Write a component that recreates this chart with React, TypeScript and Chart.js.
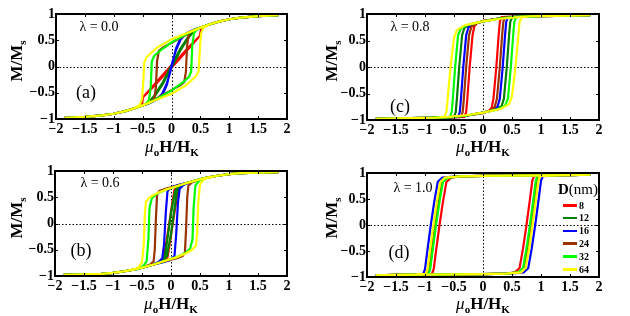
import React, { useEffect, useRef } from 'react';
import { Chart, registerables } from 'chart.js';
Chart.register(...registerables);

// ---------- data ----------
const seriesLabels = ['8', '12', '16', '24', '32', '64'];
const seriesColors = ['#ff0000', '#008000', '#0000ff', '#993300', '#00ff00', '#ffff00'];
const xTicks = [-2, -1.5, -1, -0.5, 0, 0.5, 1, 1.5, 2];
const yTicks = [-1, -0.5, 0, 0.5, 1];
const lambdaLabels = ['\u03bb = 0.0', '\u03bb = 0.6', '\u03bb = 0.8', '\u03bb = 1.0'];
const panelTags = ['(a)', '(b)', '(c)', '(d)'];

// panel (a), lambda = 0.0 : each loop = descending branch then ascending branch
const a8 = [[1.85,0.98],[1.5,0.96],[1.2,0.93],[1,0.9],[0.8,0.85],[0.65,0.8],[0.55,0.76],[0.51,0.7],[0.49,0.58],[0.3,0.37],[0.1,0.13],[-0.02,0],[-0.2,-0.22],[-0.4,-0.47],[-0.49,-0.58],[-0.51,-0.7],[-0.55,-0.76],[-0.65,-0.8],[-0.8,-0.85],[-1,-0.9],[-1.2,-0.93],[-1.5,-0.96],[-1.85,-0.98],
  [-1.5,-0.96],[-1.2,-0.93],[-1,-0.9],[-0.8,-0.85],[-0.65,-0.8],[-0.55,-0.76],[-0.51,-0.7],[-0.49,-0.58],[-0.3,-0.37],[-0.1,-0.13],[0.02,0],[0.2,0.22],[0.4,0.47],[0.49,0.58],[0.51,0.7],[0.55,0.76],[0.65,0.8],[0.8,0.85],[1,0.9],[1.2,0.93],[1.5,0.96],[1.85,0.98]];
const a12 = [[1.85,0.98],[1.5,0.96],[1.2,0.93],[1,0.9],[0.8,0.85],[0.65,0.8],[0.5,0.74],[0.4,0.7],[0.3,0.58],[0.15,0.33],[0.04,0.1],[-0.04,-0.06],[-0.15,-0.3],[-0.3,-0.56],[-0.4,-0.68],[-0.5,-0.74],[-0.65,-0.8],[-0.8,-0.85],[-1,-0.9],[-1.2,-0.93],[-1.5,-0.96],[-1.85,-0.98],
  [-1.5,-0.96],[-1.2,-0.93],[-1,-0.9],[-0.8,-0.85],[-0.65,-0.8],[-0.5,-0.74],[-0.4,-0.7],[-0.3,-0.58],[-0.15,-0.33],[-0.04,-0.1],[0.04,0.06],[0.15,0.3],[0.3,0.56],[0.4,0.68],[0.5,0.74],[0.65,0.8],[0.8,0.85],[1,0.9],[1.2,0.93],[1.5,0.96],[1.85,0.98]];
const a16 = [[1.85,0.98],[1.5,0.96],[1.2,0.93],[1,0.9],[0.8,0.85],[0.65,0.8],[0.5,0.74],[0.4,0.71],[0.25,0.63],[0.15,0.52],[0.08,0.35],[0.03,0.12],[-0.02,-0.1],[-0.08,-0.32],[-0.16,-0.52],[-0.26,-0.63],[-0.4,-0.71],[-0.5,-0.74],[-0.65,-0.8],[-0.8,-0.85],[-1,-0.9],[-1.2,-0.93],[-1.5,-0.96],[-1.85,-0.98],
  [-1.5,-0.96],[-1.2,-0.93],[-1,-0.9],[-0.8,-0.85],[-0.65,-0.8],[-0.5,-0.74],[-0.4,-0.71],[-0.25,-0.63],[-0.15,-0.52],[-0.08,-0.35],[-0.03,-0.12],[0.02,0.1],[0.08,0.32],[0.16,0.52],[0.26,0.63],[0.4,0.71],[0.5,0.74],[0.65,0.8],[0.8,0.85],[1,0.9],[1.2,0.93],[1.5,0.96],[1.85,0.98]];
const a24 = [[1.85,0.98],[1.5,0.96],[1.2,0.93],[1,0.9],[0.8,0.85],[0.65,0.8],[0.5,0.74],[0.4,0.7],[0.2,0.57],[0,0.45],[-0.15,0.36],[-0.22,0.3],[-0.25,0.1],[-0.27,-0.4],[-0.3,-0.62],[-0.4,-0.7],[-0.5,-0.74],[-0.65,-0.8],[-0.8,-0.85],[-1,-0.9],[-1.2,-0.93],[-1.5,-0.96],[-1.85,-0.98],
  [-1.5,-0.96],[-1.2,-0.93],[-1,-0.9],[-0.8,-0.85],[-0.65,-0.8],[-0.5,-0.74],[-0.4,-0.7],[-0.2,-0.57],[0,-0.45],[0.15,-0.36],[0.22,-0.3],[0.25,-0.1],[0.27,0.4],[0.3,0.62],[0.4,0.7],[0.5,0.74],[0.65,0.8],[0.8,0.85],[1,0.9],[1.2,0.93],[1.5,0.96],[1.85,0.98]];
const a32 = [[1.85,0.98],[1.5,0.96],[1.2,0.93],[1,0.9],[0.8,0.85],[0.65,0.8],[0.5,0.74],[0.4,0.7],[0.2,0.58],[0,0.46],[-0.2,0.3],[-0.3,0.2],[-0.34,0.1],[-0.36,-0.4],[-0.39,-0.64],[-0.45,-0.72],[-0.5,-0.74],[-0.65,-0.8],[-0.8,-0.85],[-1,-0.9],[-1.2,-0.93],[-1.5,-0.96],[-1.85,-0.98],
  [-1.5,-0.96],[-1.2,-0.93],[-1,-0.9],[-0.8,-0.85],[-0.65,-0.8],[-0.5,-0.74],[-0.4,-0.7],[-0.2,-0.58],[0,-0.46],[0.2,-0.3],[0.3,-0.2],[0.34,-0.1],[0.36,0.4],[0.39,0.64],[0.45,0.72],[0.5,0.74],[0.65,0.8],[0.8,0.85],[1,0.9],[1.2,0.93],[1.5,0.96],[1.85,0.98]];
const a64 = [[1.85,0.98],[1.5,0.96],[1.2,0.93],[1,0.9],[0.8,0.85],[0.65,0.8],[0.5,0.74],[0.3,0.65],[0,0.52],[-0.25,0.36],[-0.43,0.18],[-0.47,0.08],[-0.49,-0.3],[-0.51,-0.62],[-0.55,-0.73],[-0.65,-0.8],[-0.8,-0.85],[-1,-0.9],[-1.2,-0.93],[-1.5,-0.96],[-1.85,-0.98],
  [-1.5,-0.96],[-1.2,-0.93],[-1,-0.9],[-0.8,-0.85],[-0.65,-0.8],[-0.5,-0.74],[-0.3,-0.65],[0,-0.52],[0.25,-0.36],[0.43,-0.18],[0.47,-0.08],[0.49,0.3],[0.51,0.62],[0.55,0.73],[0.65,0.8],[0.8,0.85],[1,0.9],[1.2,0.93],[1.5,0.96],[1.85,0.98]];

// panel (b), lambda = 0.6
const b8 = [[1.85,0.98],[1.5,0.97],[1.2,0.96],[1,0.94],[0.8,0.91],[0.6,0.87],[0.5,0.84],[0.3,0.78],[0.15,0.73],[0.06,0.64],[0.01,0.3],[-0.03,0],[-0.08,-0.35],[-0.12,-0.62],[-0.17,-0.72],[-0.3,-0.78],[-0.5,-0.84],[-0.6,-0.87],[-0.8,-0.91],[-1,-0.94],[-1.2,-0.96],[-1.5,-0.97],[-1.85,-0.98],
  [-1.5,-0.97],[-1.2,-0.96],[-1,-0.94],[-0.8,-0.91],[-0.6,-0.87],[-0.5,-0.84],[-0.3,-0.78],[-0.15,-0.73],[-0.06,-0.64],[-0.01,-0.3],[0.03,0],[0.08,0.35],[0.12,0.62],[0.17,0.72],[0.3,0.78],[0.5,0.84],[0.6,0.87],[0.8,0.91],[1,0.94],[1.2,0.96],[1.5,0.97],[1.85,0.98]];
const b12 = [[1.85,0.98],[1.5,0.97],[1.2,0.96],[1,0.94],[0.8,0.91],[0.6,0.87],[0.5,0.84],[0.3,0.78],[0.15,0.73],[0.07,0.62],[0,0.2],[-0.05,-0.2],[-0.1,-0.58],[-0.16,-0.72],[-0.3,-0.78],[-0.5,-0.84],[-0.6,-0.87],[-0.8,-0.91],[-1,-0.94],[-1.2,-0.96],[-1.5,-0.97],[-1.85,-0.98],
  [-1.5,-0.97],[-1.2,-0.96],[-1,-0.94],[-0.8,-0.91],[-0.6,-0.87],[-0.5,-0.84],[-0.3,-0.78],[-0.15,-0.73],[-0.07,-0.62],[0,-0.2],[0.05,0.2],[0.1,0.58],[0.16,0.72],[0.3,0.78],[0.5,0.84],[0.6,0.87],[0.8,0.91],[1,0.94],[1.2,0.96],[1.5,0.97],[1.85,0.98]];
const b16 = [[1.85,0.98],[1.5,0.97],[1.2,0.96],[1,0.94],[0.8,0.91],[0.6,0.87],[0.5,0.84],[0.3,0.78],[0.15,0.74],[0.02,0.7],[-0.06,0.62],[-0.09,0.2],[-0.12,-0.4],[-0.15,-0.66],[-0.22,-0.74],[-0.35,-0.79],[-0.5,-0.84],[-0.6,-0.87],[-0.8,-0.91],[-1,-0.94],[-1.2,-0.96],[-1.5,-0.97],[-1.85,-0.98],
  [-1.5,-0.97],[-1.2,-0.96],[-1,-0.94],[-0.8,-0.91],[-0.6,-0.87],[-0.5,-0.84],[-0.3,-0.78],[-0.15,-0.74],[-0.02,-0.7],[0.06,-0.62],[0.09,-0.2],[0.12,0.4],[0.15,0.66],[0.22,0.74],[0.35,0.79],[0.5,0.84],[0.6,0.87],[0.8,0.91],[1,0.94],[1.2,0.96],[1.5,0.97],[1.85,0.98]];
const b24 = [[1.85,0.98],[1.5,0.97],[1.2,0.96],[1,0.94],[0.8,0.91],[0.6,0.87],[0.5,0.84],[0.3,0.78],[0.1,0.72],[-0.1,0.66],[-0.2,0.62],[-0.24,0.55],[-0.26,0.1],[-0.28,-0.5],[-0.3,-0.72],[-0.36,-0.78],[-0.5,-0.84],[-0.6,-0.87],[-0.8,-0.91],[-1,-0.94],[-1.2,-0.96],[-1.5,-0.97],[-1.85,-0.98],
  [-1.5,-0.97],[-1.2,-0.96],[-1,-0.94],[-0.8,-0.91],[-0.6,-0.87],[-0.5,-0.84],[-0.3,-0.78],[-0.1,-0.72],[0.1,-0.66],[0.2,-0.62],[0.24,-0.55],[0.26,-0.1],[0.28,0.5],[0.3,0.72],[0.36,0.78],[0.5,0.84],[0.6,0.87],[0.8,0.91],[1,0.94],[1.2,0.96],[1.5,0.97],[1.85,0.98]];
const b32 = [[1.85,0.98],[1.5,0.97],[1.2,0.96],[1,0.94],[0.8,0.91],[0.6,0.87],[0.5,0.84],[0.3,0.78],[0.1,0.71],[-0.1,0.64],[-0.25,0.56],[-0.33,0.48],[-0.37,0.3],[-0.39,-0.3],[-0.42,-0.72],[-0.48,-0.81],[-0.6,-0.87],[-0.8,-0.91],[-1,-0.94],[-1.2,-0.96],[-1.5,-0.97],[-1.85,-0.98],
  [-1.5,-0.97],[-1.2,-0.96],[-1,-0.94],[-0.8,-0.91],[-0.6,-0.87],[-0.5,-0.84],[-0.3,-0.78],[-0.1,-0.71],[0.1,-0.64],[0.25,-0.56],[0.33,-0.48],[0.37,-0.3],[0.39,0.3],[0.42,0.72],[0.48,0.81],[0.6,0.87],[0.8,0.91],[1,0.94],[1.2,0.96],[1.5,0.97],[1.85,0.98]];
const b64 = [[1.85,0.98],[1.5,0.97],[1.2,0.96],[1,0.94],[0.8,0.91],[0.6,0.87],[0.5,0.84],[0.3,0.78],[0.1,0.71],[-0.1,0.64],[-0.25,0.57],[-0.37,0.5],[-0.43,0.42],[-0.45,0.2],[-0.47,-0.4],[-0.5,-0.74],[-0.55,-0.82],[-0.6,-0.86],[-0.8,-0.91],[-1,-0.94],[-1.2,-0.96],[-1.5,-0.97],[-1.85,-0.98],
  [-1.5,-0.97],[-1.2,-0.96],[-1,-0.94],[-0.8,-0.91],[-0.6,-0.87],[-0.5,-0.84],[-0.3,-0.78],[-0.1,-0.71],[0.1,-0.64],[0.25,-0.57],[0.37,-0.5],[0.43,-0.42],[0.45,-0.2],[0.47,0.4],[0.5,0.74],[0.55,0.82],[0.6,0.86],[0.8,0.91],[1,0.94],[1.2,0.96],[1.5,0.97],[1.85,0.98]];

// panel (c), lambda = 0.8
const c8 = [[1.85,0.98],[1.5,0.97],[1,0.96],[0.6,0.95],[0.3,0.92],[0,0.87],[-0.1,0.83],[-0.15,0.77],[-0.18,0.6],[-0.23,0],[-0.27,-0.6],[-0.29,-0.85],[-0.32,-0.94],[-0.55,-0.95],[-1,-0.96],[-1.5,-0.97],[-1.85,-0.98],
  [-1.5,-0.97],[-1,-0.96],[-0.6,-0.95],[-0.3,-0.92],[0,-0.87],[0.1,-0.83],[0.15,-0.77],[0.18,-0.6],[0.23,0],[0.27,0.6],[0.29,0.85],[0.32,0.94],[0.55,0.95],[1,0.96],[1.5,0.97],[1.85,0.98]];
const c12 = [[1.85,0.98],[1.5,0.97],[1,0.96],[0.6,0.95],[0.3,0.92],[0,0.86],[-0.2,0.81],[-0.32,0.74],[-0.36,0.6],[-0.41,0],[-0.45,-0.6],[-0.47,-0.85],[-0.5,-0.94],[-0.7,-0.95],[-1,-0.96],[-1.5,-0.97],[-1.85,-0.98],
  [-1.5,-0.97],[-1,-0.96],[-0.6,-0.95],[-0.3,-0.92],[0,-0.86],[0.2,-0.81],[0.32,-0.74],[0.36,-0.6],[0.41,0],[0.45,0.6],[0.47,0.85],[0.5,0.94],[0.7,0.95],[1,0.96],[1.5,0.97],[1.85,0.98]];
const c16 = [[1.85,0.98],[1.5,0.97],[1,0.96],[0.6,0.95],[0.3,0.92],[0,0.86],[-0.15,0.82],[-0.25,0.75],[-0.29,0.6],[-0.34,0],[-0.38,-0.6],[-0.4,-0.85],[-0.43,-0.94],[-0.65,-0.95],[-1,-0.96],[-1.5,-0.97],[-1.85,-0.98],
  [-1.5,-0.97],[-1,-0.96],[-0.6,-0.95],[-0.3,-0.92],[0,-0.86],[0.15,-0.82],[0.25,-0.75],[0.29,-0.6],[0.34,0],[0.38,0.6],[0.4,0.85],[0.43,0.94],[0.65,0.95],[1,0.96],[1.5,0.97],[1.85,0.98]];
const c24 = [[1.85,0.98],[1.5,0.97],[1,0.96],[0.6,0.95],[0.3,0.92],[0,0.86],[-0.12,0.82],[-0.2,0.76],[-0.24,0.6],[-0.29,0],[-0.33,-0.6],[-0.35,-0.85],[-0.38,-0.94],[-0.6,-0.95],[-1,-0.96],[-1.5,-0.97],[-1.85,-0.98],
  [-1.5,-0.97],[-1,-0.96],[-0.6,-0.95],[-0.3,-0.92],[0,-0.86],[0.12,-0.82],[0.2,-0.76],[0.24,-0.6],[0.29,0],[0.33,0.6],[0.35,0.85],[0.38,0.94],[0.6,0.95],[1,0.96],[1.5,0.97],[1.85,0.98]];
const c32 = [[1.85,0.98],[1.5,0.97],[1,0.96],[0.6,0.95],[0.3,0.92],[0,0.86],[-0.25,0.8],[-0.38,0.73],[-0.43,0.6],[-0.48,0],[-0.52,-0.6],[-0.54,-0.85],[-0.57,-0.94],[-0.75,-0.95],[-1,-0.96],[-1.5,-0.97],[-1.85,-0.98],
  [-1.5,-0.97],[-1,-0.96],[-0.6,-0.95],[-0.3,-0.92],[0,-0.86],[0.25,-0.8],[0.38,-0.73],[0.43,-0.6],[0.48,0],[0.52,0.6],[0.54,0.85],[0.57,0.94],[0.75,0.95],[1,0.96],[1.5,0.97],[1.85,0.98]];
const c64 = [[1.85,0.98],[1.5,0.97],[1,0.96],[0.8,0.955],[0.6,0.94],[0.3,0.91],[0,0.86],[-0.3,0.79],[-0.45,0.7],[-0.5,0.55],[-0.56,0],[-0.61,-0.6],[-0.63,-0.85],[-0.67,-0.94],[-0.8,-0.955],[-1,-0.96],[-1.5,-0.97],[-1.85,-0.98],
  [-1.5,-0.97],[-1,-0.96],[-0.8,-0.955],[-0.6,-0.94],[-0.3,-0.91],[0,-0.86],[0.3,-0.79],[0.45,-0.7],[0.5,-0.55],[0.56,0],[0.61,0.6],[0.63,0.85],[0.67,0.94],[0.8,0.955],[1,0.96],[1.5,0.97],[1.85,0.98]];

// panel (d), lambda = 1.0
const d8 = [[1.85,0.97],[1.5,0.96],[0.5,0.95],[0,0.945],[-0.4,0.935],[-0.55,0.91],[-0.63,0.83],[-0.69,0.45],[-0.75,0],[-0.81,-0.5],[-0.85,-0.85],[-0.88,-0.94],[-1.05,-0.95],[-1.5,-0.96],[-1.85,-0.97],
  [-1.5,-0.96],[-0.5,-0.95],[0,-0.945],[0.4,-0.935],[0.55,-0.91],[0.63,-0.83],[0.69,-0.45],[0.75,0],[0.81,0.5],[0.85,0.85],[0.88,0.94],[1.05,0.95],[1.5,0.96],[1.85,0.97]];
const d12 = [[1.85,0.97],[1.5,0.96],[0.5,0.95],[0,0.945],[-0.4,0.935],[-0.62,0.91],[-0.7,0.83],[-0.76,0.45],[-0.82,0],[-0.88,-0.5],[-0.92,-0.85],[-0.95,-0.94],[-1.12,-0.95],[-1.5,-0.96],[-1.85,-0.97],
  [-1.5,-0.96],[-0.5,-0.95],[0,-0.945],[0.4,-0.935],[0.62,-0.91],[0.7,-0.83],[0.76,-0.45],[0.82,0],[0.88,0.5],[0.92,0.85],[0.95,0.94],[1.12,0.95],[1.5,0.96],[1.85,0.97]];
const d16 = [[1.85,0.97],[1.5,0.96],[0.5,0.95],[0,0.945],[-0.45,0.935],[-0.7,0.91],[-0.78,0.83],[-0.84,0.45],[-0.9,0],[-0.96,-0.5],[-1,-0.85],[-1.03,-0.94],[-1.2,-0.95],[-1.5,-0.96],[-1.85,-0.97],
  [-1.5,-0.96],[-0.5,-0.95],[0,-0.945],[0.45,-0.935],[0.7,-0.91],[0.78,-0.83],[0.84,-0.45],[0.9,0],[0.96,0.5],[1,0.85],[1.03,0.94],[1.2,0.95],[1.5,0.96],[1.85,0.97]];
const d24 = [[1.85,0.97],[1.5,0.96],[0.5,0.95],[0,0.945],[-0.4,0.935],[-0.635,0.91],[-0.715,0.83],[-0.775,0.45],[-0.835,0],[-0.895,-0.5],[-0.935,-0.85],[-0.965,-0.94],[-1.135,-0.95],[-1.5,-0.96],[-1.85,-0.97],
  [-1.5,-0.96],[-0.5,-0.95],[0,-0.945],[0.4,-0.935],[0.635,-0.91],[0.715,-0.83],[0.775,-0.45],[0.835,0],[0.895,0.5],[0.935,0.85],[0.965,0.94],[1.135,0.95],[1.5,0.96],[1.85,0.97]];
const d32 = [[1.85,0.97],[1.5,0.96],[0.5,0.95],[0,0.945],[-0.4,0.935],[-0.61,0.91],[-0.69,0.83],[-0.75,0.45],[-0.81,0],[-0.87,-0.5],[-0.91,-0.85],[-0.94,-0.94],[-1.11,-0.95],[-1.5,-0.96],[-1.85,-0.97],
  [-1.5,-0.96],[-0.5,-0.95],[0,-0.945],[0.4,-0.935],[0.61,-0.91],[0.69,-0.83],[0.75,-0.45],[0.81,0],[0.87,0.5],[0.91,0.85],[0.94,0.94],[1.11,0.95],[1.5,0.96],[1.85,0.97]];
const d64 = [[1.85,0.97],[1.5,0.96],[0.5,0.95],[0,0.945],[-0.4,0.935],[-0.655,0.91],[-0.735,0.83],[-0.795,0.45],[-0.855,0],[-0.915,-0.5],[-0.955,-0.85],[-0.985,-0.94],[-1.155,-0.95],[-1.5,-0.96],[-1.85,-0.97],
  [-1.5,-0.96],[-0.5,-0.95],[0,-0.945],[0.4,-0.935],[0.655,-0.91],[0.735,-0.83],[0.795,-0.45],[0.855,0],[0.915,0.5],[0.955,0.85],[0.985,0.94],[1.155,0.95],[1.5,0.96],[1.85,0.97]];

const panelSeries = [
  [a8, a12, a16, a24, a32, a64],
  [b8, b12, b16, b24, b32, b64],
  [c8, c12, c16, c24, c32, c64],
  [d8, d12, d16, d24, d32, d64],
];

// ---------- layout ----------
const SERIF = '"Liberation Serif", "DejaVu Serif", "Times New Roman", serif';
const panels = [
  { ox: 0, oy: 0, w: 305, h: 140, padTop: 14, padRight: 18, yW: 56, xH: 21, lam: [99, 27], tag: [86, 92], yT: [16, 61], xT: [172, 146] },
  { ox: 0, oy: 158, w: 305, h: 140, padTop: 13, padRight: 18, yW: 55, xH: 22, lam: [100, 183], tag: [81, 250], yT: [16, 218], xT: [171, 303] },
  { ox: 315, oy: 0, w: 305, h: 140, padTop: 14, padRight: 21, yW: 52, xH: 20, lam: [410, 27], tag: [400, 106], yT: [331, 61], xT: [483, 146] },
  { ox: 315, oy: 158, w: 305, h: 140, padTop: 15, padRight: 21, yW: 52, xH: 21, lam: [413, 188], tag: [399, 252], yT: [331, 218], xT: [483, 303] },
];

const fmt = (v: number) => String(v).replace('-', '\u2212');

const framePlugin = {
  id: 'frameAndZero',
  beforeDatasetsDraw(chart: any) {
    const { ctx, chartArea: a, scales } = chart;
    const x0 = Math.round(scales.x.getPixelForValue(0)) + 0.5;
    const y0 = Math.round(scales.y.getPixelForValue(0)) + 0.5;
    ctx.save();
    ctx.strokeStyle = '#000';
    ctx.lineWidth = 1;
    ctx.setLineDash([1.5, 2]);
    ctx.beginPath();
    ctx.moveTo(x0, a.top);
    ctx.lineTo(x0, a.bottom);
    ctx.moveTo(a.left, y0);
    ctx.lineTo(a.right, y0);
    ctx.stroke();
    ctx.restore();
  },
  afterDraw(chart: any) {
    const { ctx, chartArea: a, scales } = chart;
    ctx.save();
    ctx.strokeStyle = '#000';
    ctx.lineWidth = 1;
    ctx.beginPath();
    xTicks.forEach((v) => {
      const px = Math.round(scales.x.getPixelForValue(v)) + 0.5;
      ctx.moveTo(px, a.bottom);
      ctx.lineTo(px, a.bottom - 3);
      ctx.moveTo(px, a.top);
      ctx.lineTo(px, a.top + 3);
    });
    yTicks.forEach((v) => {
      const py = Math.round(scales.y.getPixelForValue(v)) + 0.5;
      ctx.moveTo(a.left, py);
      ctx.lineTo(a.left + 3, py);
      ctx.moveTo(a.right, py);
      ctx.lineTo(a.right - 3, py);
    });
    ctx.stroke();
    ctx.lineWidth = 2;
    ctx.strokeRect(a.left, a.top, a.right - a.left, a.bottom - a.top);
    ctx.restore();
  },
};

function Panel({ idx }: { idx: number }) {
  const ref = useRef<HTMLCanvasElement>(null);
  const p = panels[idx];
  useEffect(() => {
    if (!ref.current) return;
    const tickFont = { family: SERIF, size: 14, weight: 'bold' as const };
    const chart = new Chart(ref.current, {
      type: 'line',
      data: {
        datasets: panelSeries[idx].map((pts, i) => ({
          label: seriesLabels[i],
          data: pts.map(([x, y]) => ({ x, y })),
          borderColor: seriesColors[i],
          backgroundColor: seriesColors[i],
          borderWidth: 2.2,
          pointRadius: 0,
          tension: 0,
          fill: false,
          order: 5 - i,
        })),
      },
      options: {
        responsive: false,
        animation: false,
        devicePixelRatio: 1,
        layout: { padding: { top: p.padTop, right: p.padRight, left: 0, bottom: 0 } },
        plugins: { legend: { display: false }, tooltip: { enabled: false } },
        scales: {
          x: {
            type: 'linear',
            min: -2,
            max: 2,
            grid: { display: false, drawTicks: false },
            border: { display: false },
            afterBuildTicks: (s: any) => { s.ticks = xTicks.map((v) => ({ value: v })); },
            afterFit: (s: any) => { s.height = p.xH; },
            ticks: { autoSkip: false, maxRotation: 0, padding: 2, color: '#000', font: tickFont, callback: (v: any) => fmt(v) },
          },
          y: {
            type: 'linear',
            min: -1,
            max: 1,
            grid: { display: false, drawTicks: false },
            border: { display: false },
            afterBuildTicks: (s: any) => { s.ticks = yTicks.map((v) => ({ value: v })); },
            afterFit: (s: any) => { s.width = p.yW; },
            ticks: { autoSkip: false, padding: 1, color: '#000', font: tickFont, callback: (v: any) => fmt(v) },
          },
        },
      } as any,
      plugins: [framePlugin],
    });
    return () => chart.destroy();
  }, [idx]);
  return (
    <canvas
      ref={ref}
      width={p.w}
      height={p.h}
      style={{ position: 'absolute', left: p.ox, top: p.oy, width: p.w, height: p.h }}
    />
  );
}

const centered = (x: number, y: number, extra: any = {}) => ({
  position: 'absolute' as const,
  left: x,
  top: y,
  transform: 'translate(-50%, -50%)',
  whiteSpace: 'nowrap' as const,
  fontFamily: SERIF,
  color: '#000',
  lineHeight: 1,
  ...extra,
});

const subStyle = { fontSize: 11, verticalAlign: 'baseline', position: 'relative' as const, top: 4 };

function Labels({ idx }: { idx: number }) {
  const p = panels[idx];
  return (
    <>
      <div style={centered(p.lam[0], p.lam[1], { fontSize: 14 })}>{lambdaLabels[idx]}</div>
      <div style={centered(p.tag[0], p.tag[1], { fontSize: 18 })}>{panelTags[idx]}</div>
      <div style={centered(p.yT[0], p.yT[1], { fontSize: 17, fontWeight: 'bold', transform: 'translate(-50%, -50%) rotate(-90deg)' })}>
        M/M<span style={subStyle}>s</span>
      </div>
      <div style={centered(p.xT[0], p.xT[1], { fontSize: 17, fontWeight: 'bold' })}>
        <span style={{ fontStyle: 'italic', fontWeight: 'normal' }}>{'\u03bc'}</span>
        <span style={subStyle}>o</span>H/H<span style={subStyle}>K</span>
      </div>
    </>
  );
}

function Legend() {
  return (
    <>
      <div style={centered(578, 189, { fontSize: 15 })}>
        <b>D</b>(nm)
      </div>
      {seriesLabels.map((lab, i) => (
        <React.Fragment key={lab}>
          <div style={{ position: 'absolute', left: 563, top: 204 + i * 12.8, width: 14, height: 2.5, background: seriesColors[i] }} />
          <div style={{ position: 'absolute', left: 579, top: 199.5 + i * 12.8, fontFamily: SERIF, fontSize: 10, fontWeight: 'bold', lineHeight: '12px', color: '#000' }}>{lab}</div>
        </React.Fragment>
      ))}
    </>
  );
}

export default function App() {
  return (
    <div style={{ position: 'absolute', left: 0, top: 0, width: 630, height: 316, background: '#fff', overflow: 'hidden' }}>
      {panels.map((_, i) => (
        <Panel key={'p' + i} idx={i} />
      ))}
      {panels.map((_, i) => (
        <Labels key={'l' + i} idx={i} />
      ))}
      <Legend />
    </div>
  );
}
